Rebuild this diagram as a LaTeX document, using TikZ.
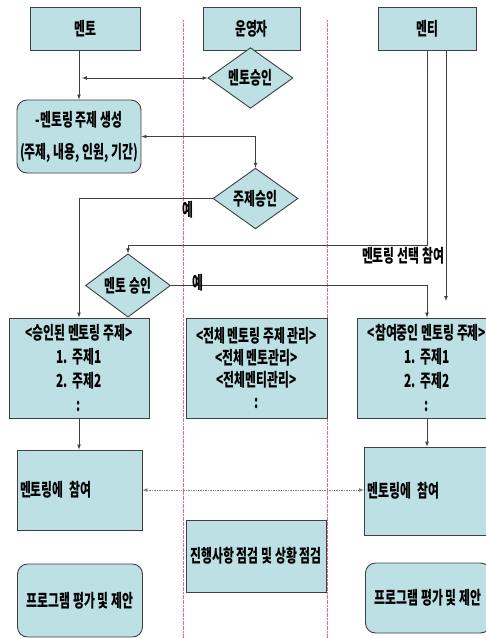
\documentclass[tikz,border=0pt]{standalone}
\usepackage{fontspec}
\newfontfamily\kr[FakeStretch=0.66]{Noto Sans CJK KR}
\usetikzlibrary{arrows,shapes.geometric}
\definecolor{boxfill}{RGB}{188,224,228}
\definecolor{lane}{RGB}{240,105,130}
\tikzset{
  base/.style={draw=black!75, fill=boxfill, line width=0.9pt, font=\kr\bfseries\fontsize{18}{24}\selectfont, inner sep=2pt},
  headbox/.style={base, minimum width=110pt, minimum height=43pt},
  listbox/.style={base, minimum width=140pt, minimum height=100pt, align=center},
  joinbox/.style={base, minimum width=125pt, minimum height=80pt, text width=119pt, align=left},
  roundbox/.style={base, rounded corners=10pt, minimum width=125pt, minimum height=73pt, align=center},
  decide/.style={base, diamond, minimum width=85pt, minimum height=36pt, inner sep=0pt},
  flow/.style={draw=black!75, line width=0.7pt},
  lanes/.style={lane, dash pattern=on 2pt off 0.6pt, line width=0.7pt},
  tag/.style={font=\kr\bfseries\fontsize{18}{20}\selectfont, inner sep=0pt}
}
\begin{document}
\begin{tikzpicture}[x=1pt,y=-1pt,>=latex]
\useasboundingbox (0,0) rectangle (486,638);
\draw[lanes] (183,20) -- (183,638);
\draw[lanes] (327,20) -- (327,638);

\node[headbox] (mentor) at (85,29) {멘토};
\node[headbox, minimum width=97pt] (admin) at (251.5,29) {운영자};
\node[headbox, minimum width=98pt] (mentee) at (427,29) {멘티};

\node[decide] (okMentor) at (250.5,78) {멘토승인};
\node[roundbox, minimum width=124pt] (topic) at (79,136.5) {-멘토링 주제 생성\\[8pt](주제, 내용, 인원, 기간)};
\node[decide] (okTopic) at (255.5,198.5) {주제승인};
\node[decide] (okMentee) at (128,285.5) {멘토 승인};

\node[listbox] (listL) at (79,368) {<승인된 멘토링 주제>\\1.\ \ 주제1\\2.\ \ 주제2\\:};
\node[listbox, minimum width=141pt] (listC) at (256.5,368) {<전체 멘토링 주제 관리>\\[-2pt]<전체 멘토관리>\\[-2pt]<전체멘티관리>\\[-2pt]:};
\node[listbox] (listR) at (427,368) {<참여중인 멘토링 주제>\\1.\ \ 주제1\\2.\ \ 주제2\\:};

\node[joinbox] (joinL) at (79.5,490) {멘토링에 참여};
\node[joinbox, minimum height=88pt] (joinR) at (427,491) {멘토링에 참여};
\node[base, minimum width=140pt, minimum height=72pt] (check) at (256,556) {진행사항 점검 및 상황 점검};
\node[roundbox] (evalL) at (80,600.5) {프로그램 평가 및 제안};
\node[roundbox, minimum height=70pt] (evalR) at (428,598) {프로그램 평가 및 제안};

\coordinate (meet) at (82,78);
\coordinate (pick) at (446,301);
\draw[flow,->] (mentor.south -| topic.north) -- (topic.north);
\draw[flow,<->] (meet) -- (okMentor.west);
\draw[flow,<->] (topic.east) -| (okTopic.north);
\draw[flow,->] (okTopic.west) -| (listL.north);
\node[tag] (yes1) at (188,210) {예};
\draw[flow,->] (mentee.south) -- ++(0,194) -| (okMentee.north);
\draw[flow,->] (mentee.south -| pick) -- (pick);
\node[tag] (pickText) at (403,256) {멘토링 선택 참여};
\draw[flow,->] (okMentee.east) -| (listR.north);
\node[tag] (yes2) at (198,283) {예};
\draw[flow,->] (listL.south) -- (listL.south |- joinL.north);
\draw[flow,->] (listR.south) -- (joinR.north);
\draw[flow,<->,gray,densely dotted] (joinL.east) -- (joinR.west |- joinL.east);
\end{tikzpicture}
\end{document}
